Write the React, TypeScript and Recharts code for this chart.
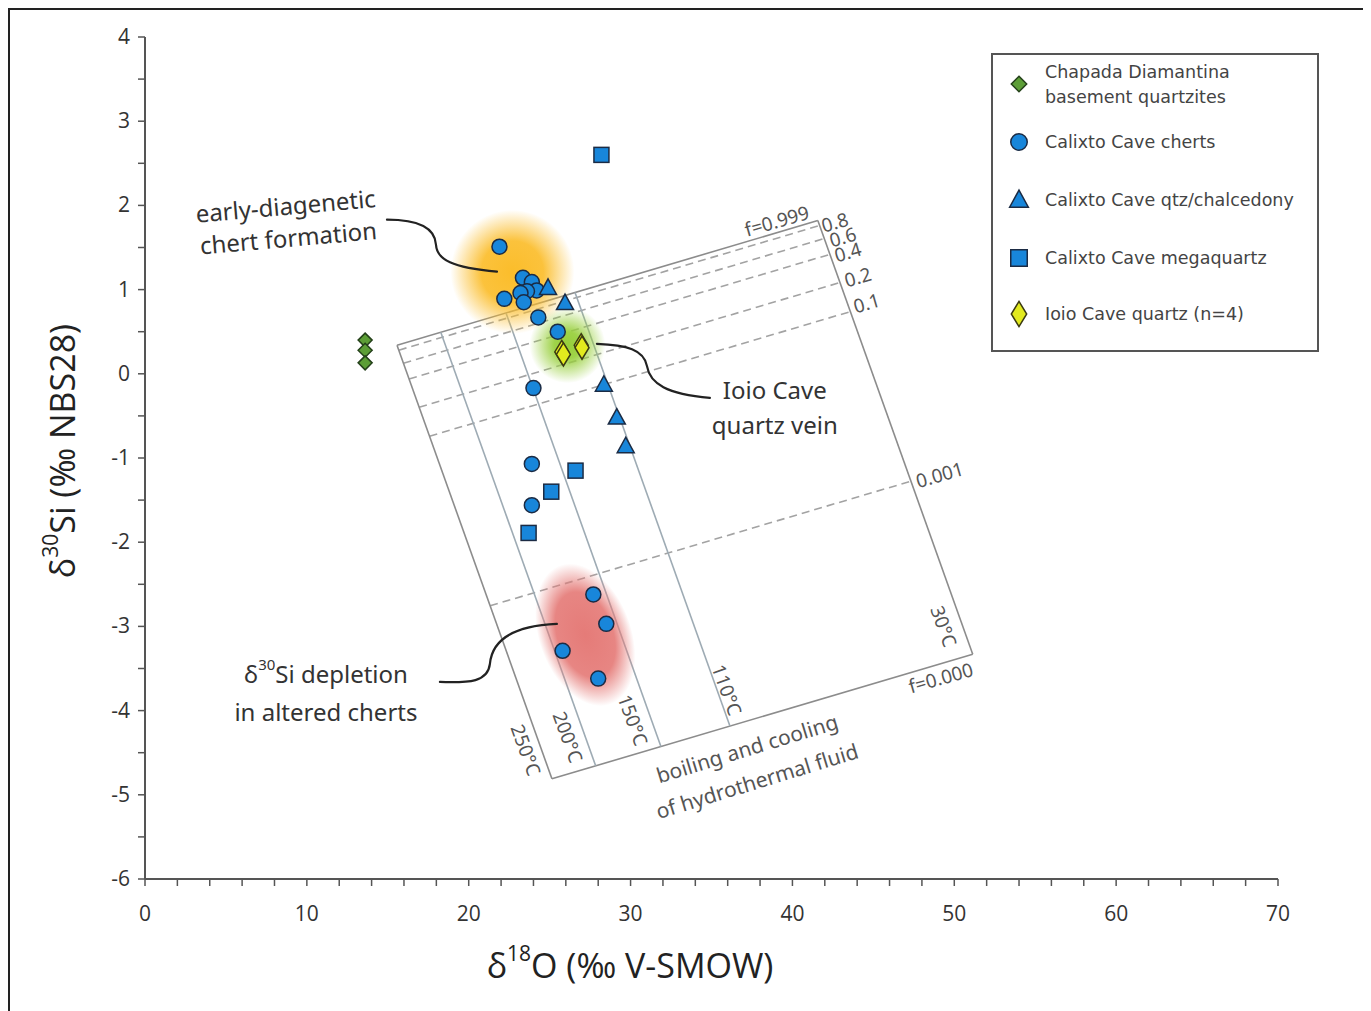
import React from 'react';
import { ScatterChart, Scatter, XAxis, YAxis, ReferenceLine, ReferenceDot, Legend } from 'recharts';

// ---------------- data (δ18O, δ30Si) ----------------
const chapadaX = [13.6, 13.6, 13.6];
const chapadaY = [0.4, 0.28, 0.13];

const chertX = [21.9, 23.35, 23.9, 24.2, 23.6, 23.2, 22.2, 23.4, 24.3, 25.5, 24.0, 23.9, 23.9, 27.7, 28.5, 25.8, 28.0];
const chertY = [1.51, 1.14, 1.09, 0.99, 0.98, 0.96, 0.89, 0.85, 0.67, 0.5, -0.17, -1.07, -1.56, -2.62, -2.97, -3.29, -3.62];

const qtzX = [24.9, 25.95, 28.35, 29.15, 29.7];
const qtzY = [1.02, 0.84, -0.13, -0.52, -0.86];

const megaX = [28.2, 26.6, 25.1, 23.7];
const megaY = [2.6, -1.15, -1.4, -1.89];

const ioioX = [25.75, 25.85, 26.95, 27.0];
const ioioY = [0.26, 0.23, 0.34, 0.31];

// ---------------- axes ----------------
const xMajorTicks = [0, 10, 20, 30, 40, 50, 60, 70];
const xTicks = [0, 2, 4, 6, 8, 10, 12, 14, 16, 18, 20, 22, 24, 26, 28, 30, 32, 34, 36, 38, 40, 42, 44, 46, 48, 50, 52, 54, 56, 58, 60, 62, 64, 66, 68, 70];
const yMajorTicks = [-6, -5, -4, -3, -2, -1, 0, 1, 2, 3, 4];
const yTicks = [-6, -5.5, -5, -4.5, -4, -3.5, -3, -2.5, -2, -1.5, -1, -0.5, 0, 0.5, 1, 1.5, 2, 2.5, 3, 3.5, 4];

// ---------------- model grid (boiling & cooling of hydrothermal fluid) ----------------
const gridTL = [15.57, 0.34];
const gridTR = [41.57, 1.82];
const gridBL = [25.14, -4.81];
const tempLineU = [0, 0.104, 0.259, 0.423, 1]; // 250, 200, 150, 110, 30 °C
const fLineV = [0, 0.0115, 0.0415, 0.078, 0.143, 0.21, 0.601, 1]; // f = 0.999 ... 0.000

const gridLabelText = ['f=0.999', '0.8', '0.6', '0.4', '0.2', '0.1', '0.001', 'f=0.000', '250°C', '200°C', '150°C', '110°C', '30°C'];
const gridLabelX = [39.04, 42.62, 43.11, 43.42, 44.04, 44.59, 49.1, 49.17, 23.53, 26.13, 30.14, 35.95, 49.35];
const gridLabelY = [1.815, 1.8, 1.625, 1.447, 1.15, 0.841, -1.2, -3.61, -4.468, -4.314, -4.112, -3.755, -3.0];
const gridLabelAngle = [-16, -16, -16, -16, -16, -16, -16, -16, 70, 70, 70, 70, 70];

// ---------------- legend ----------------
const seriesNames = [
  'Chapada Diamantina basement quartzites',
  'Calixto Cave cherts',
  'Calixto Cave qtz/chalcedony',
  'Calixto Cave megaquartz',
  'Ioio Cave quartz (n=4)',
];
const legendLines = [
  ['Chapada Diamantina', 'basement quartzites'],
  ['Calixto Cave cherts'],
  ['Calixto Cave qtz/chalcedony'],
  ['Calixto Cave megaquartz'],
  ['Ioio Cave quartz (n=4)'],
];
const seriesKinds = ['diamondG', 'circle', 'triangle', 'square', 'diamondY'];

const toPts = (xs: number[], ys: number[]) => xs.map((x, i) => ({ x, y: ys[i] }));

const BLUE = '#1886da';
const EDGE = '#1b2b44';
const AXIS = '#555';
const ANN_FONT = "'Noto Sans', 'DejaVu Sans', sans-serif";
const TICK_FONT = "'Open Sans', 'Liberation Sans', sans-serif";

const dia = (cx: number, cy: number, w: number, h: number) =>
  `${cx},${cy - h / 2} ${cx + w / 2},${cy} ${cx},${cy + h / 2} ${cx - w / 2},${cy}`;

function marker(kind: string, cx: number, cy: number, scale = 1) {
  switch (kind) {
    case 'diamondG':
      return <polygon points={dia(cx, cy, 14 * scale, 14 * scale)} fill="#5c9e36" stroke="#24401a" strokeWidth={1.5} />;
    case 'circle':
      return <circle cx={cx} cy={cy} r={7.5 * scale} fill={BLUE} stroke={EDGE} strokeWidth={1.5} />;
    case 'triangle':
      return (
        <polygon
          points={`${cx},${cy - 9 * scale} ${cx + 8.5 * scale},${cy + 6.5 * scale} ${cx - 8.5 * scale},${cy + 6.5 * scale}`}
          fill={BLUE}
          stroke={EDGE}
          strokeWidth={1.5}
        />
      );
    case 'square':
      return <rect x={cx - 7.5 * scale} y={cy - 7.5 * scale} width={15 * scale} height={15 * scale} fill={BLUE} stroke={EDGE} strokeWidth={1.5} />;
    case 'diamondY':
      return <polygon points={dia(cx, cy, 14 * scale, 23 * scale)} fill="#e2ea1e" stroke="#3b3a12" strokeWidth={1.5} />;
    default:
      return null;
  }
}

const gridPoint = (u: number, v: number) => ({
  x: gridTL[0] + u * (gridTR[0] - gridTL[0]) + v * (gridBL[0] - gridTL[0]),
  y: gridTL[1] + u * (gridTR[1] - gridTL[1]) + v * (gridBL[1] - gridTL[1]),
});

const blobShape = (id: string, color: string, rx: number, ry: number, angle: number, mid: number) => (p: any) => (
  <g>
    <defs>
      <radialGradient id={id}>
        <stop offset="0" stopColor={color} stopOpacity={1} />
        <stop offset={mid} stopColor={color} stopOpacity={0.92} />
        <stop offset="1" stopColor={color} stopOpacity={0} />
      </radialGradient>
    </defs>
    <ellipse cx={p.cx} cy={p.cy} rx={rx} ry={ry} fill={`url(#${id})`} transform={`rotate(${angle} ${p.cx} ${p.cy})`} />
  </g>
);

const textShape = (lines: React.ReactNode[], angle: number, size: number, gap: number, color = '#333') => (p: any) => {
  const n = lines.length;
  return (
    <g transform={`rotate(${angle} ${p.cx} ${p.cy})`}>
      {lines.map((l, i) => (
        <text
          key={i}
          x={p.cx}
          y={p.cy + (i - (n - 1) / 2) * gap}
          textAnchor="middle"
          dominantBaseline="central"
          fontFamily={ANN_FONT}
          fontSize={size}
          fill={color}
        >
          {l}
        </text>
      ))}
    </g>
  );
};

// cubic segments given as pixel offsets from the anchor point
const leaderShape = (segs: number[][]) => (p: any) => {
  const d =
    `M${p.cx},${p.cy} ` +
    segs
      .map(
        (s) =>
          `C${p.cx + s[0]},${p.cy + s[1]} ${p.cx + s[2]},${p.cy + s[3]} ${p.cx + s[4]},${p.cy + s[5]}`
      )
      .join(' ');
  return <path d={d} fill="none" stroke="#222" strokeWidth={2.2} strokeLinecap="round" />;
};

const XTick = (props: any) => {
  const { x, y, payload } = props;
  if (!xMajorTicks.includes(payload.value)) return <g />;
  return (
    <text x={x} y={y} dy={33} textAnchor="middle" fontFamily={TICK_FONT} fontSize={21} fill="#333">
      {payload.value}
    </text>
  );
};

const YTick = (props: any) => {
  const { x, y, payload } = props;
  if (!yMajorTicks.includes(payload.value)) return <g />;
  return (
    <text x={x} y={y} dx={-4} dy={7} textAnchor="end" fontFamily={TICK_FONT} fontSize={21} fill="#333">
      {payload.value}
    </text>
  );
};

const LegendBox = (props: any) => {
  const payload = (props && props.payload) || [];
  const names: string[] = payload.length ? payload.map((e: any) => e.value) : seriesNames;
  const rowY = [31, 89, 147, 205, 261];
  return (
    <svg width={328} height={299} style={{ display: 'block' }}>
      <rect x={1} y={1} width={326} height={297} fill="#fff" stroke="#555" strokeWidth={2} />
      {names.map((nm) => {
        const idx = seriesNames.indexOf(nm);
        if (idx < 0) return null;
        const lines = legendLines[idx];
        const cy = rowY[idx];
        return (
          <g key={nm}>
            {marker(seriesKinds[idx], 28, cy, 1.1)}
            {lines.map((l, j) => (
              <text
                key={j}
                x={54}
                y={cy + (j - (lines.length - 1) / 2) * 25}
                dominantBaseline="central"
                fontFamily="'DejaVu Sans', Verdana, sans-serif"
                fontSize={17.5}
                fill="#444"
              >
                {l}
              </text>
            ))}
          </g>
        );
      })}
    </svg>
  );
};

export default function App() {
  const chapada = toPts(chapadaX, chapadaY);
  const cherts = toPts(chertX, chertY);
  const qtz = toPts(qtzX, qtzY);
  const mega = toPts(megaX, megaY);
  const ioio = toPts(ioioX, ioioY);

  const tempSegs = tempLineU.map((u) => [gridPoint(u, 0), gridPoint(u, 1)]);
  const fSegs = fLineV.map((v) => [gridPoint(0, v), gridPoint(1, v)]);

  return (
    <div style={{ width: 1355, height: 1003, border: '2px solid #222', background: '#fff', position: 'relative' }}>
      <ScatterChart width={1355} height={1003} margin={{ top: 27, right: 87, left: 75, bottom: 74 }}>
        <XAxis
          type="number"
          dataKey="x"
          domain={[0, 70]}
          ticks={xTicks}
          interval={0}
          tickSize={7}
          tickMargin={2}
          height={60}
          axisLine={{ stroke: AXIS, strokeWidth: 2 }}
          tickLine={{ stroke: AXIS, strokeWidth: 1.5 }}
          tick={<XTick />}
          label={{
            content: () => (
              <text x={620} y={955} textAnchor="middle" dominantBaseline="central" fontFamily={TICK_FONT} fontSize={34} fill="#222">
                <tspan>δ</tspan>
                <tspan dy={-12} fontSize={21}>18</tspan>
                <tspan dy={12}>O (‰ V-SMOW)</tspan>
              </text>
            ),
          }}
        />
        <YAxis
          type="number"
          dataKey="y"
          domain={[-6, 4]}
          ticks={yTicks}
          interval={0}
          tickSize={7}
          tickMargin={4}
          width={60}
          axisLine={{ stroke: AXIS, strokeWidth: 2 }}
          tickLine={{ stroke: AXIS, strokeWidth: 1.5 }}
          tick={<YTick />}
          label={{
            content: () => (
              <text
                x={52}
                y={441}
                transform="rotate(-90 52 441)"
                textAnchor="middle"
                dominantBaseline="central"
                fontFamily={TICK_FONT}
                fontSize={34}
                fill="#222"
              >
                <tspan>δ</tspan>
                <tspan dy={-12} fontSize={21}>30</tspan>
                <tspan dy={12}>Si (‰ NBS28)</tspan>
              </text>
            ),
          }}
        />

        {/* glows */}
        <ReferenceDot x={22.7} y={1.21} r={1} shape={blobShape('gOrange', '#fbbd2b', 62, 62, 0, 0.5)} />
        <ReferenceDot x={26.1} y={0.34} r={1} shape={blobShape('gGreen', '#97cf3a', 38, 38, 0, 0.35)} />
        <ReferenceDot x={27.2} y={-3.1} r={1} shape={blobShape('gRed', '#e57b78', 46, 74, -20, 0.6)} />

        {/* model grid */}
        {fSegs.map((s, i) => (
          <ReferenceLine
            key={`f${i}`}
            segment={s}
            stroke={i === 0 || i === fSegs.length - 1 ? '#8c8c8c' : '#a3a3a3'}
            strokeWidth={1.6}
            strokeDasharray={i === 0 || i === fSegs.length - 1 ? undefined : '8 5'}
          />
        ))}
        {tempSegs.map((s, i) => (
          <ReferenceLine
            key={`t${i}`}
            segment={s}
            stroke={i === 0 || i === tempSegs.length - 1 ? '#8c8c8c' : '#9eabb4'}
            strokeWidth={1.6}
          />
        ))}
        {gridLabelText.map((t, i) => (
          <ReferenceDot
            key={`gl${i}`}
            x={gridLabelX[i]}
            y={gridLabelY[i]}
            r={1}
            shape={textShape([t], gridLabelAngle[i], 19, 0, '#555')}
          />
        ))}
        <ReferenceDot
          x={37.5}
          y={-4.64}
          r={1}
          shape={textShape(['boiling and cooling', 'of hydrothermal fluid'], -17, 21, 34, '#555')}
        />

        {/* annotations */}
        <ReferenceDot x={8.77} y={1.81} r={1} shape={textShape(['early-diagenetic', 'chert formation'], -5, 24, 32)} />
        <ReferenceDot
          x={14.95}
          y={1.83}
          r={1}
          shape={leaderShape([
            [30, 0, 48, 8, 49, 25],
            [50, 40, 65, 48, 110, 52],
          ])}
        />
        <ReferenceDot x={38.91} y={-0.4} r={1} shape={textShape(['Ioio Cave', 'quartz vein'], 0, 24, 35)} />
        <ReferenceDot
          x={27.92}
          y={0.355}
          r={1}
          shape={leaderShape([
            [30, 1, 47, 6, 50, 22],
            [53, 40, 70, 50, 113, 54],
          ])}
        />
        <ReferenceDot
          x={11.18}
          y={-3.78}
          r={1}
          shape={textShape(
            [
              <>
                <tspan>δ</tspan>
                <tspan dy={-9} fontSize={15}>30</tspan>
                <tspan dy={9}>Si depletion</tspan>
              </>,
              'in altered cherts',
            ],
            0,
            24,
            38
          )}
        />
        <ReferenceDot
          x={18.22}
          y={-3.66}
          r={1}
          shape={leaderShape([
            [30, 1, 48, 0, 50, -18],
            [52, -40, 70, -56, 117, -58],
          ])}
        />

        {/* series */}
        <Scatter name={seriesNames[0]} data={chapada} isAnimationActive={false} shape={(p: any) => marker('diamondG', p.cx, p.cy)} />
        <Scatter name={seriesNames[1]} data={cherts} isAnimationActive={false} shape={(p: any) => marker('circle', p.cx, p.cy)} />
        <Scatter name={seriesNames[2]} data={qtz} isAnimationActive={false} shape={(p: any) => marker('triangle', p.cx, p.cy)} />
        <Scatter name={seriesNames[3]} data={mega} isAnimationActive={false} shape={(p: any) => marker('square', p.cx, p.cy)} />
        <Scatter name={seriesNames[4]} data={ioio} isAnimationActive={false} shape={(p: any) => marker('diamondY', p.cx, p.cy)} />

        <Legend
          layout="horizontal"
          verticalAlign="middle"
          align="center"
          wrapperStyle={{ left: 981, top: 43, width: 328, height: 299 }}
          content={<LegendBox />}
        />
      </ScatterChart>
    </div>
  );
}
